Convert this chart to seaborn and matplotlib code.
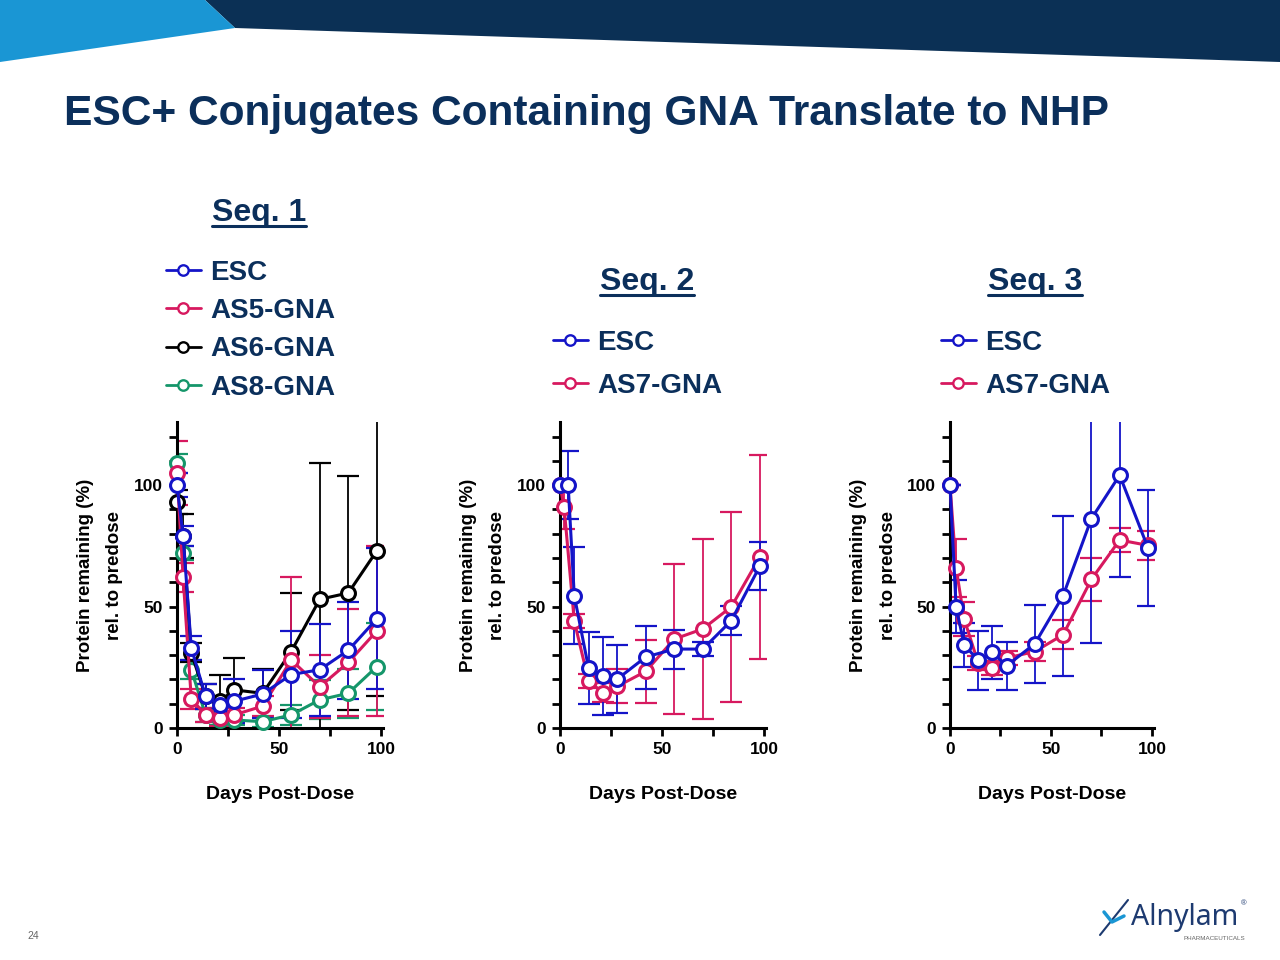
import numpy as np
import pandas as pd
import matplotlib
matplotlib.use("Agg")
import matplotlib.pyplot as plt
import seaborn as sns
from matplotlib.lines import Line2D
from matplotlib.patches import Polygon
from matplotlib.ticker import MultipleLocator

# ---------------- data ----------------
days = [0, 3, 7, 14, 21, 28, 42, 56, 70, 84, 98]

# Seq. 1
s1_esc = [100, 79, 33, 13, 9.5, 11, 14, 22, 24, 32, 45]
s1_esc_sd = [5, 4, 5, 5, 3, 9, 10, 18, 19, 20, 29]
s1_as5 = [105, 62, 12, 5.4, 4, 5.4, 9, 28, 17, 27, 40]
s1_as5_sd = [13, 6, 4, 3, 3, 3, 4, 34, 13, 22, 35]
s1_as6 = [93, 79, 31, 13, 11, 15.7, 14.3, 31.5, 53, 55.6, 73]
s1_as6_sd = [5, 9, 4, 5, 11, 13, 10, 24, 56, 48, 60]
s1_as8 = [109, 72, 24, 5.4, 3.3, 3.3, 2.6, 5.4, 11.6, 14.3, 25.3]
s1_as8_sd = [4, 3, 4, 3, 2, 2, 2, 4, 8, 10, 18]

# Seq. 2
s2_esc_days = [0, 4, 7, 14, 21, 28, 42, 56, 70, 84, 98]
s2_esc = [100, 100, 54.5, 24.7, 21.5, 20.1, 29.2, 32.5, 32.5, 44.2, 66.7]
s2_esc_sd = [0, 14, 20, 15, 16, 14, 13, 8, 3, 6, 10]
s2_as7_days = [0, 2, 7, 14, 21, 28, 42, 56, 70, 84, 98]
s2_as7 = [100, 91, 44, 19.4, 14.6, 17.1, 23.3, 36.6, 40.8, 49.9, 70.5]
s2_as7_sd = [0, 9, 3, 3, 4, 7, 13, 31, 37, 39, 42]

# Seq. 3
s3_esc = [100, 50, 34.3, 27.8, 31.1, 25.6, 34.7, 54.5, 86.2, 104.1, 74.2]
s3_esc_sd = [0, 11, 9, 12, 11, 10, 16, 33, 51, 42, 24]
s3_as7 = [100, 66, 44.9, 26.7, 24.7, 28.8, 31.5, 38.4, 61.2, 77.4, 75.2]
s3_as7_sd = [0, 12, 7, 3, 3, 3, 4, 6, 9, 5, 6]

panel_titles = ["Seq. 1", "Seq. 2", "Seq. 3"]
title_text = "ESC+ Conjugates Containing GNA Translate to NHP"
ylabel_text = "Protein remaining (%)\nrel. to predose"
xlabel_text = "Days Post-Dose"
xticks = [0, 50, 100]
yticks = [0, 50, 100]

BLUE = "#1414c8"
MAGENTA = "#d7195f"
BLACK = "#000000"
GREEN = "#15966a"
NAVY = "#0b2f5b"

panels = [
    dict(series=[("AS8-GNA", days, s1_as8, s1_as8_sd, GREEN),
                 ("AS6-GNA", days, s1_as6, s1_as6_sd, BLACK),
                 ("AS5-GNA", days, s1_as5, s1_as5_sd, MAGENTA),
                 ("ESC", days, s1_esc, s1_esc_sd, BLUE)],
         legend=["ESC", "AS5-GNA", "AS6-GNA", "AS8-GNA"]),
    dict(series=[("AS7-GNA", s2_as7_days, s2_as7, s2_as7_sd, MAGENTA),
                 ("ESC", s2_esc_days, s2_esc, s2_esc_sd, BLUE)],
         legend=["ESC", "AS7-GNA"]),
    dict(series=[("AS7-GNA", days, s3_as7, s3_as7_sd, MAGENTA),
                 ("ESC", days, s3_esc, s3_esc_sd, BLUE)],
         legend=["ESC", "AS7-GNA"]),
]

# ---------------- figure ----------------
sns.set_theme(style="ticks")
plt.rcParams["font.family"] = ["Liberation Sans", "DejaVu Sans"]
plt.rcParams["font.weight"] = "bold"

W, H = 1280, 960
fig = plt.figure(figsize=(W / 100, H / 100), dpi=100)
fig.patch.set_facecolor("white")

def fx(px):
    return px / W

def fy(py):
    return 1 - py / H

# header banner
fig.patches.append(Polygon([(fx(205), fy(0)), (fx(1280), fy(0)), (fx(1280), fy(62)),
                            (fx(235), fy(28))], closed=True, transform=fig.transFigure,
                           facecolor="#0b3055", edgecolor="none", zorder=0))
fig.patches.append(Polygon([(fx(0), fy(0)), (fx(205), fy(0)), (fx(235), fy(28)),
                            (fx(0), fy(62))], closed=True, transform=fig.transFigure,
                           facecolor="#1a96d4", edgecolor="none", zorder=0))

fig.text(fx(64), fy(114), title_text, fontsize=30.6, fontweight="bold", color=NAVY,
         ha="left", va="center")

axes_px = [(177, 206), (560, 206), (950, 204)]
ax_top, ax_bottom = 422, 728

axes = []
for (left, width), p in zip(axes_px, panels):
    ax = fig.add_axes([fx(left), fy(ax_bottom), width / W, (ax_bottom - ax_top) / H])
    axes.append(ax)
    for i, (name, d, v, sd, c) in enumerate(p["series"]):
        ax.errorbar(d, v, yerr=sd, fmt="none", ecolor=c, elinewidth=1.3,
                    capsize=8, capthick=1.6, zorder=2 + i * 0.1)
        sns.lineplot(x=d, y=v, ax=ax, color=c, linewidth=2.2, marker="o",
                     markersize=10, markerfacecolor="white", markeredgecolor=c,
                     markeredgewidth=2.2, clip_on=False, zorder=4 + i, legend=False)
    ax.set_xlim(0, 101)
    ax.set_ylim(0, 126)
    ax.set_xticks(xticks)
    ax.set_yticks(yticks)
    ax.xaxis.set_minor_locator(MultipleLocator(25))
    ax.yaxis.set_minor_locator(MultipleLocator(10))
    sns.despine(ax=ax)
    for s in ("left", "bottom"):
        ax.spines[s].set_linewidth(2.2)
        ax.spines[s].set_color("black")
    ax.tick_params(which="both", direction="out", length=6, width=2.0, color="black",
                   labelsize=12.5, labelcolor="black", pad=4)
    for lab in ax.get_xticklabels() + ax.get_yticklabels():
        lab.set_fontweight("bold")
    ax.set_ylabel(ylabel_text, fontsize=13.5, fontweight="bold", color="black",
                  linespacing=1.95)
    ax.yaxis.set_label_coords(-0.262, 0.5)
    ax.set_xlabel(xlabel_text, fontsize=14, fontweight="bold", color="black")
    ax.xaxis.set_label_coords(0.5, -0.19)
    ax.set_facecolor("none")

# legends
leg_specs = [
    dict(x=166, y=260, sp=0.44, title=(212, 213)),
    dict(x=553, y=330, sp=0.62, title=(600, 282)),
    dict(x=941, y=330, sp=0.62, title=(988, 282)),
]
fig.canvas.draw()
renderer = fig.canvas.get_renderer()
for p, spec, ttl in zip(panels, leg_specs, panel_titles):
    cmap = {s[0]: s[4] for s in p["series"]}
    handles = [Line2D([0], [0], color=cmap[n], lw=2.0, marker="o", markersize=7.5,
                      markerfacecolor="white", markeredgecolor=cmap[n],
                      markeredgewidth=1.7) for n in p["legend"]]
    leg = fig.legend(handles, p["legend"], loc="upper left",
                     bbox_to_anchor=(fx(spec["x"]), fy(spec["y"])),
                     bbox_transform=fig.transFigure, frameon=False,
                     prop=dict(size=20, weight="bold"), labelcolor=NAVY,
                     handlelength=1.25, handletextpad=0.35, labelspacing=spec["sp"],
                     borderpad=0, borderaxespad=0)
    tx, ty = spec["title"]
    t = fig.text(fx(tx), fy(ty), ttl, fontsize=23, fontweight="bold", color=NAVY,
                 ha="left", va="center")
    bb = t.get_window_extent(renderer=renderer).transformed(fig.transFigure.inverted())
    fig.add_artist(Line2D([bb.x0, bb.x1], [bb.y0 + 0.002, bb.y0 + 0.002],
                          transform=fig.transFigure, color=NAVY, lw=2.2))

# footer
fig.text(fx(27), fy(936), "24", fontsize=7.5, color="#666666", ha="left", va="center",
         fontweight="normal")
fig.text(fx(1131), fy(917), "Alnylam", fontsize=20.5, color="#1d3a70", ha="left",
         va="center", fontweight="normal", family=["Noto Sans", "DejaVu Sans"])
fig.text(fx(1241), fy(904), "\u00ae", fontsize=5.5, color="#1d3a70", ha="left",
         va="center", fontweight="normal")
fig.text(fx(1183), fy(938), "PHARMACEUTICALS", fontsize=4.5, color="#666666",
         ha="left", va="center", fontweight="normal")
fig.add_artist(Line2D([fx(1100), fx(1128)], [fy(935), fy(900)], transform=fig.transFigure,
                      color="#1d3a70", lw=1.5))
fig.add_artist(Line2D([fx(1104), fx(1112), fx(1124)], [fy(912), fy(922), fy(916)],
                      transform=fig.transFigure, color="#1a96d4", lw=2.5))

fig.savefig("out.png", dpi=100, facecolor="white")
